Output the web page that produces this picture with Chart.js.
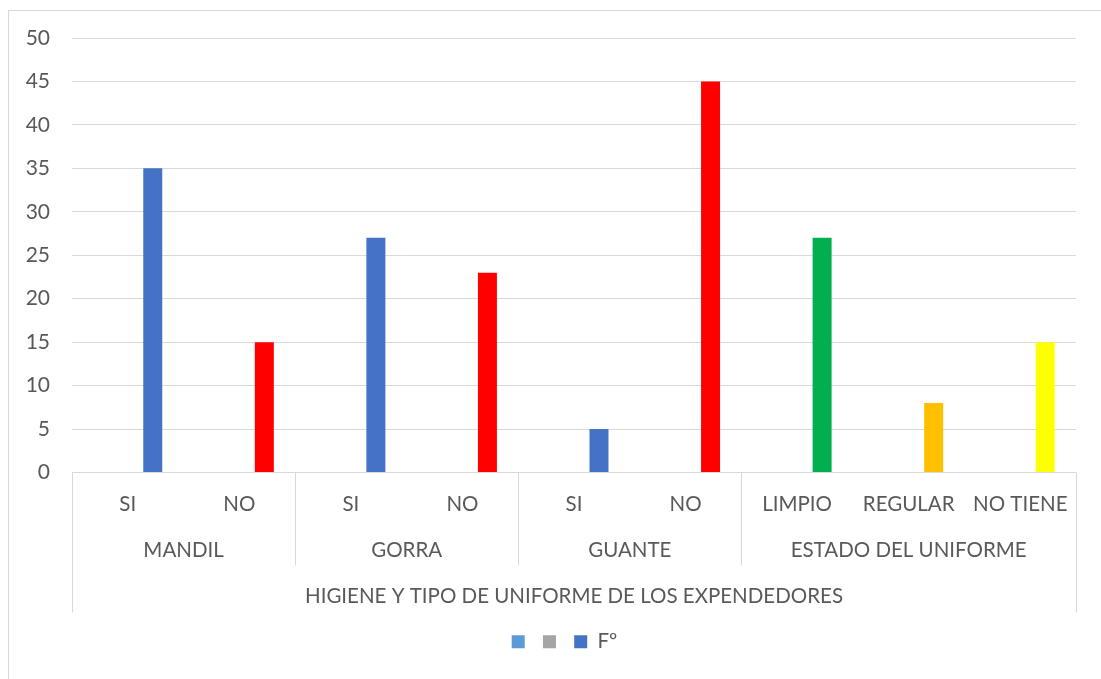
<!DOCTYPE html>
<html>
<head>
<meta charset="utf-8">
<script src="https://cdn.jsdelivr.net/npm/chart.js@4/dist/chart.umd.min.js"></script>
<style>
  html, body { margin: 0; padding: 0; background: #fff; }
  #wrap { width: 1101px; height: 679px; position: relative; }
</style>
</head>
<body>
<div id="wrap"><canvas id="chart"></canvas></div>
<script>
// Categories (inner level) and their groups (outer level)
const categories = ['SI', 'NO', 'SI', 'NO', 'SI', 'NO', 'LIMPIO', 'REGULAR', 'NO TIENE'];
const groups = ['MANDIL', 'GORRA', 'GUANTE', 'ESTADO DEL UNIFORME'];
const groupSizes = [2, 2, 2, 3];
const axisTitle = 'HIGIENE Y TIPO DE UNIFORME DE LOS EXPENDEDORES';

// Series
const seriesNames = ['', '', 'Fº'];
const seriesA = [null, null, null, null, null, null, null, null, null];
const seriesB = [null, null, null, null, null, null, null, null, null];
const frecuencia = [35, 15, 27, 23, 5, 45, 27, 8, 15];

// Value axis
const yMin = 0;
const yMax = 50;
const yStep = 5;

// Styling
const FONT = 'Lato';
const TEXT = '#595959';
const LINE = '#D9D9D9';
const legendColors = ['#5B9BD5', '#A5A5A5', '#4472C4'];
const barColors = ['#4472C4', '#FF0000', '#4472C4', '#FF0000', '#4472C4', '#FF0000', '#00B050', '#FFC000', '#FFFF00'];

const AXIS_H = 151;       // space reserved below the plot
const BOX_H = 140;        // height of the category box
const INNER_ROW = 93;     // bottom of the inner + group rows
const CAT_SIZE = 20.5;
const LEGEND_SHIFT = 53;  // legend is centred a little right of the canvas middle

const crisp = v => Math.round(v) + 0.5;

// Outer frame of the chart
const frame = {
  id: 'frame',
  beforeDraw(chart) {
    const ctx = chart.ctx;
    ctx.save();
    ctx.fillStyle = '#fff';
    ctx.fillRect(0, 0, chart.width, chart.height);
    ctx.strokeStyle = LINE;
    ctx.lineWidth = 1;
    ctx.strokeRect(8.5, 10.5, chart.width + 20, chart.height + 20);
    ctx.restore();
  }
};

// Legend placement
const legendOffset = {
  id: 'legendOffset',
  afterLayout(chart) {
    if (chart.legend) {
      chart.legend.left += LEGEND_SHIFT;
    }
  }
};

// Multi-level category box: separators, group names and axis title
const groupAxis = {
  id: 'groupAxis',
  afterDraw(chart) {
    const ctx = chart.ctx;
    const x = chart.scales.x;
    const area = chart.chartArea;
    const n = categories.length;
    const edge = i => i <= 0 ? area.left : i >= n ? area.right
      : (x.getPixelForValue(i - 1) + x.getPixelForValue(i)) / 2;
    const top = area.bottom;
    const rowBottom = top + INNER_ROW;
    const bottom = top + BOX_H;

    ctx.save();
    ctx.strokeStyle = LINE;
    ctx.lineWidth = 1;
    ctx.beginPath();
    ctx.moveTo(crisp(edge(0)), top);
    ctx.lineTo(crisp(edge(0)), bottom);
    ctx.moveTo(crisp(edge(n)), top);
    ctx.lineTo(crisp(edge(n)), bottom);
    let start = 0;
    groupSizes.forEach((size, g) => {
      if (g > 0) {
        ctx.moveTo(crisp(edge(start)), top);
        ctx.lineTo(crisp(edge(start)), rowBottom);
      }
      start += size;
    });
    ctx.stroke();

    ctx.fillStyle = TEXT;
    ctx.font = CAT_SIZE + 'px ' + FONT;
    ctx.textAlign = 'center';
    ctx.textBaseline = 'middle';
    start = 0;
    groupSizes.forEach((size, g) => {
      const cx = (edge(start) + edge(start + size)) / 2;
      ctx.fillText(groups[g], cx, top + 78);
      start += size;
    });
    ctx.fillText(axisTitle, (area.left + area.right) / 2, top + 124);
    ctx.restore();
  }
};

new Chart(document.getElementById('chart'), {
  type: 'bar',
  data: {
    labels: categories,
    datasets: [
      { label: seriesNames[0], data: seriesA, backgroundColor: legendColors[0] },
      { label: seriesNames[1], data: seriesB, backgroundColor: legendColors[1] },
      { label: seriesNames[2], data: frecuencia, backgroundColor: barColors }
    ]
  },
  options: {
    responsive: true,
    maintainAspectRatio: false,
    animation: false,
    categoryPercentage: 0.672,
    barPercentage: 0.76,
    layout: { padding: { left: 0, right: 25, top: 38, bottom: 17 } },
    plugins: {
      tooltip: { enabled: false },
      legend: {
        position: 'bottom',
        labels: {
          boxWidth: 13,
          boxHeight: 13,
          padding: 8,
          color: TEXT,
          font: { family: FONT, size: CAT_SIZE },
          generateLabels(chart) {
            return chart.data.datasets.map((ds, i) => ({
              text: seriesNames[i],
              fillStyle: legendColors[i],
              strokeStyle: legendColors[i],
              lineWidth: 0,
              fontColor: TEXT,
              datasetIndex: i,
              hidden: false
            }));
          }
        }
      }
    },
    scales: {
      x: {
        grid: { display: false, drawTicks: false },
        border: { display: false },
        ticks: {
          color: TEXT,
          font: { family: FONT, size: CAT_SIZE },
          padding: 20,
          maxRotation: 0,
          autoSkip: false
        },
        afterFit(scale) { scale.height = AXIS_H; }
      },
      y: {
        min: yMin,
        max: yMax,
        grid: { color: LINE, drawTicks: false },
        border: { display: false },
        ticks: {
          stepSize: yStep,
          color: TEXT,
          font: { family: FONT, size: 21 },
          padding: 22
        },
        afterFit(scale) { scale.width = 72; }
      }
    }
  },
  plugins: [frame, legendOffset, groupAxis]
});
</script>
</body>
</html>
